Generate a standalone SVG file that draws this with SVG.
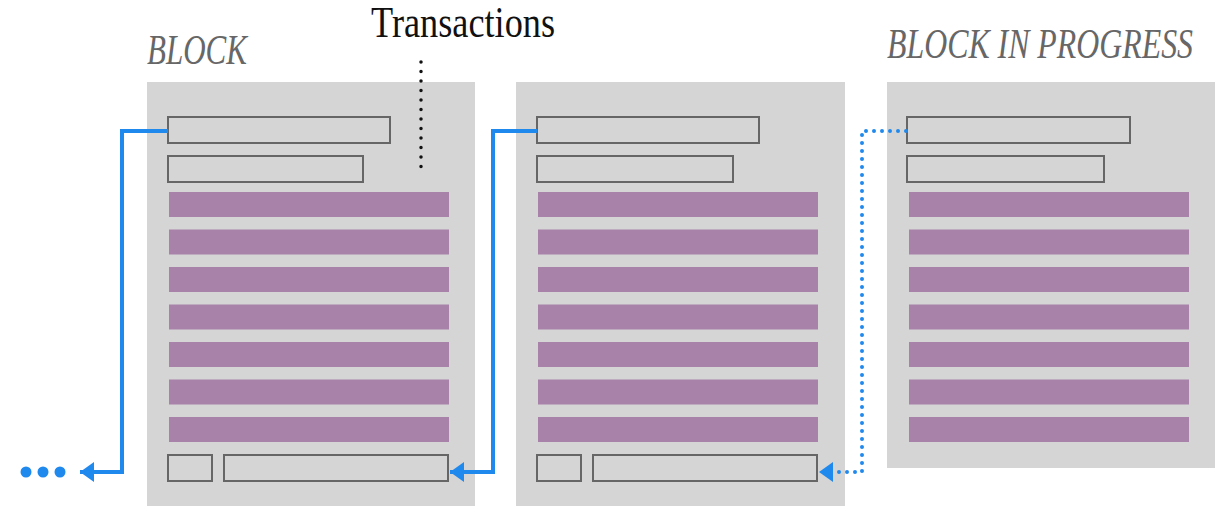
<svg xmlns="http://www.w3.org/2000/svg" width="1217" height="506" viewBox="0 0 1217 506">
<style>
.blk{fill:#d5d5d5}
.hdr{fill:#d5d5d5;stroke:#666;stroke-width:2}
.tx{fill:#a982aa}
.lbl{font-family:"Liberation Serif","DejaVu Serif",serif;font-style:italic;fill:#676767}
.ttl{font-family:"Liberation Serif","DejaVu Serif",serif;fill:#111}
.link{fill:none;stroke:#2089ee;stroke-width:4}
.dot{stroke-dasharray:0 8;stroke-linecap:round;stroke-width:4}
</style>
<defs>
<marker id="ah" markerUnits="userSpaceOnUse" markerWidth="16" markerHeight="22" refX="14" refY="10" orient="auto">
<path d="M0,0 L14,10 L0,20 Z" fill="#2089ee"/>
</marker>
<g id="body">
<rect class="tx" x="22" y="110" width="280" height="25"/>
<rect class="tx" x="22" y="147.5" width="280" height="25"/>
<rect class="tx" x="22" y="185" width="280" height="25"/>
<rect class="tx" x="22" y="222.5" width="280" height="25"/>
<rect class="tx" x="22" y="260" width="280" height="25"/>
<rect class="tx" x="22" y="297.5" width="280" height="25"/>
<rect class="tx" x="22" y="335" width="280" height="25"/>
</g>
</defs>
<text class="lbl" x="147" y="64" font-size="43" textLength="100" lengthAdjust="spacingAndGlyphs">BLOCK</text>
<text class="ttl" x="371" y="37" font-size="44" textLength="184" lengthAdjust="spacingAndGlyphs">Transactions</text>
<text class="lbl" x="887" y="58" font-size="43" textLength="306" lengthAdjust="spacingAndGlyphs">BLOCK IN PROGRESS</text>
<g id="block1">
<rect class="blk" x="147" y="82" width="328" height="424"/>
<rect class="hdr" x="168" y="117" width="222" height="26"/>
<rect class="hdr" x="168" y="156" width="195" height="26"/>
<use href="#body" x="147" y="82"/>
<rect class="hdr" x="168" y="455" width="44" height="26"/>
<rect class="hdr" x="224" y="455" width="224" height="26"/>
</g>
<g id="block2">
<rect class="blk" x="516" y="82" width="329" height="424"/>
<rect class="hdr" x="537" y="117" width="222" height="26"/>
<rect class="hdr" x="537" y="156" width="196" height="26"/>
<use href="#body" x="516" y="82"/>
<rect class="hdr" x="537" y="455" width="44" height="26"/>
<rect class="hdr" x="593" y="455" width="224" height="26"/>
</g>
<g id="block3">
<rect class="blk" x="887" y="82" width="328" height="386"/>
<rect class="hdr" x="907" y="117" width="223" height="26"/>
<rect class="hdr" x="907" y="156" width="197" height="26"/>
<use href="#body" x="887" y="82"/>
</g>
<g id="connectors">
<line x1="421" y1="62" x2="421" y2="176" stroke="#111" stroke-width="3.5" stroke-linecap="round" stroke-dasharray="0 9.5"/>
<path class="link" d="M168,131 H122 V472 H80" marker-end="url(#ah)"/>
<path class="link" d="M537,131 H493 V472 H450" marker-end="url(#ah)"/>
<path class="link dot" d="M906,131 H862 V472 H826"/>
<path d="M819,472 L833,462 L833,482 Z" fill="#2089ee"/>
<g id="more" fill="#2089ee">
<circle cx="26" cy="472" r="5.5"/>
<circle cx="43" cy="472" r="5.5"/>
<circle cx="60" cy="472" r="5.5"/>
</g>
</g>
</svg>
